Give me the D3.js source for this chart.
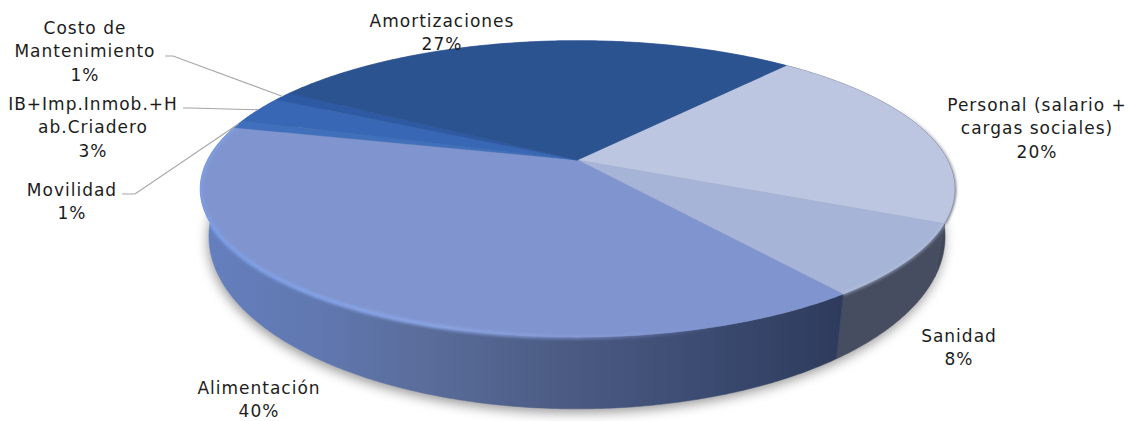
<!DOCTYPE html>
<html>
<head>
<meta charset="utf-8">
<title>Costos</title>
<script src="https://cdnjs.cloudflare.com/ajax/libs/d3/7.8.5/d3.min.js"></script>
<style>
  html, body { margin: 0; padding: 0; background: #fff; }
  text { font-family: "DejaVu Sans", sans-serif; font-size: 17px; fill: #1c1c1c; text-anchor: middle; letter-spacing: 1px; }
</style>
</head>
<body>
<div id="chart"></div>
<script>
// the printed labels are rounded
var categories = ["Personal", "Sanidad", "Alimentación", "Movilidad", "IB", "Costo", "Amortizaciones"];
var values = [20.5, 7.9, 39.2, 0.9, 2.9, 1.0, 27.6];
var labels = [
    ["Personal (salario +", "cargas sociales)", "20%"],
    ["Sanidad", "8%"],
    ["Alimentación", "40%"],
    ["Movilidad", "1%"],
    ["IB+Imp.Inmob.+H", "ab.Criadero", "3%"],
    ["Costo de", "Mantenimiento", "1%"],
    ["Amortizaciones", "27%"]
];
var topColors = ["#bcc6e0", "#a6b4d7", "#8095cf", "#4070bb", "#3867b5", "#2e5aa3", "#2c5290"];

// label placement: centre x and first baseline
var labelPos = [[1037, 111], [959, 342], [259, 393.5], [72, 196], [93, 110], [85, 34], [442, 27]];
var lineHeight = 23.3;
// where the leader lines leave the labels
var leaders = { 3: [[122, 194], [135, 194]], 4: [[183, 108], [190, 108]], 5: [[165, 56], [173, 56]] };

var width = 1134, height = 421;
var svg = d3.select("#chart").append("svg").attr("width", width).attr("height", height).style("display", "block");
var defs = svg.append("defs");

// perspective projection of the two rims
var k = -0.195;
var topRim = { cx: 577.5, cy: 160, a: 142.6, b: 370 };
var botRim = { cx: 577, cy: 203, a: 165.7, b: 361 };
function project(rim, t) {
    var u = Math.sin(t), v = -Math.cos(t), w = 1 + k * v;
    return [rim.cx + rim.b * u / w, rim.cy + rim.a * v / w];
}
function arcPoints(rim, a0, a1) {
    var n = Math.max(2, Math.ceil((a1 - a0) / 0.01));
    return d3.range(n + 1).map(function(i) { return project(rim, a0 + (a1 - a0) * i / n); });
}
var line = d3.line();

var start = 40.4 * Math.PI / 180;
var slices = d3.pie().sort(null).startAngle(start).endAngle(start + 2 * Math.PI)(values);

// filters
defs.append("filter").attr("id", "shadow").attr("x", "-10%").attr("y", "-20%").attr("width", "120%").attr("height", "140%")
    .append("feGaussianBlur").attr("stdDeviation", 6);
defs.append("filter").attr("id", "soft").attr("x", "-10%").attr("y", "-20%").attr("width", "120%").attr("height", "140%")
    .append("feGaussianBlur").attr("stdDeviation", 1.6);
defs.append("filter").attr("id", "edge").attr("x", "-2%").attr("y", "-2%").attr("width", "104%").attr("height", "104%")
    .append("feGaussianBlur").attr("stdDeviation", 0.5);

// wall shading
var wall = defs.append("linearGradient").attr("id", "wallGrad").attr("gradientUnits", "userSpaceOnUse")
    .attr("x1", 200).attr("x2", 840).attr("y1", 0).attr("y2", 0);
[[0, "#6580bf"], [0.2, "#6077ae"], [0.35, "#5a6d9b"], [0.58, "#4a5a82"], [0.8, "#3a4a70"], [1, "#2e3b5c"]].forEach(function(s) {
    wall.append("stop").attr("offset", s[0]).attr("stop-color", s[1]);
});
var rimGrad = defs.append("linearGradient").attr("id", "rimGrad").attr("gradientUnits", "userSpaceOnUse")
    .attr("x1", 200).attr("x2", 720).attr("y1", 0).attr("y2", 0);
[[0, "#7d9fe8", 1], [0.45, "#8aa6e6", 1], [0.8, "#8a9ad8", 0.5], [1, "#8a9ad8", 0]].forEach(function(s) {
    rimGrad.append("stop").attr("offset", s[0]).attr("stop-color", s[1]).attr("stop-opacity", s[2]);
});
var darkEdge = defs.append("linearGradient").attr("id", "darkEdge").attr("gradientUnits", "userSpaceOnUse")
    .attr("x1", 0).attr("x2", 0).attr("y1", 95).attr("y2", 195);
[[0, 0], [1, 1]].forEach(function(s) {
    darkEdge.append("stop").attr("offset", s[0]).attr("stop-color", "#50566a").attr("stop-opacity", s[1]);
});
// the bevel may spill on the wall but not on the white page
var pieClip = defs.append("clipPath").attr("id", "pieClip");
pieClip.append("path").attr("d", line(arcPoints(topRim, 0, 2 * Math.PI)) + "Z");
pieClip.append("path").attr("d", line(arcPoints(botRim, 0, 2 * Math.PI)) + "Z");

// soft shadow under the pie
svg.append("path")
    .attr("d", line(arcPoints(botRim, 0, 2 * Math.PI)) + "Z")
    .attr("transform", "translate(-1,4)")
    .attr("fill", "#6e6e6e").attr("opacity", 0.7)
    .attr("filter", "url(#shadow)");

// side walls
var wallColors = ["#3f4759", "#464d60", "url(#wallGrad)", "#5a74b0", "#5a74b0", "#5a74b0", "#5a74b0"];
svg.append("g").selectAll("path").data(slices).enter().append("path")
    .attr("d", function(d) {
        return line(arcPoints(topRim, d.startAngle, d.endAngle).concat(arcPoints(botRim, d.startAngle, d.endAngle).reverse())) + "Z";
    })
    .attr("fill", function(d, i) { return wallColors[i]; })
    .attr("stroke", function(d, i) { return wallColors[i]; })
    .attr("stroke-width", 0.5);

// dark soft edge on the far right of the rim, drawn before the face
svg.append("path")
    .attr("d", line(arcPoints(topRim, slices[0].startAngle + 0.5, slices[0].endAngle)))
    .attr("fill", "none").attr("stroke", "url(#darkEdge)").attr("stroke-width", 2.5)
    .attr("filter", "url(#soft)");

// top face
var topG = svg.append("g").attr("filter", "url(#edge)");
topG.selectAll("path").data(slices).enter().append("path")
    .attr("d", function(d) {
        return line([[topRim.cx, topRim.cy]].concat(arcPoints(topRim, d.startAngle, d.endAngle))) + "Z";
    })
    .attr("fill", function(d, i) { return topColors[i]; })
    .attr("stroke", function(d, i) { return topColors[i]; })
    .attr("stroke-width", 0.4);

// bevel along the rim of the food and health slices
var alim = slices[2];
var bevel = svg.append("g").attr("clip-path", "url(#pieClip)");
bevel.append("path")
    .attr("d", line(arcPoints(topRim, alim.startAngle, alim.endAngle)))
    .attr("fill", "none").attr("stroke", "url(#rimGrad)").attr("stroke-width", 4)
    .attr("filter", "url(#soft)");
bevel.append("path")
    .attr("d", line(arcPoints(topRim, slices[1].startAngle, slices[1].endAngle)))
    .attr("fill", "none").attr("stroke", "#b8c2dc").attr("stroke-width", 3).attr("opacity", 0.6)
    .attr("filter", "url(#soft)");

// leader lines
Object.keys(leaders).forEach(function(key) {
    var d = slices[key];
    var end = project(topRim, (d.startAngle + d.endAngle) / 2);
    svg.append("path")
        .attr("d", line(leaders[key].concat([end])))
        .attr("fill", "none").attr("stroke", "#a6a6a6").attr("stroke-width", 1.1);
});

// labels
labels.forEach(function(lines, i) {
    lines.forEach(function(s, j) {
        svg.append("text")
            .attr("x", labelPos[i][0])
            .attr("y", labelPos[i][1] + j * lineHeight)
            .text(s);
    });
});
</script>
</body>
</html>
